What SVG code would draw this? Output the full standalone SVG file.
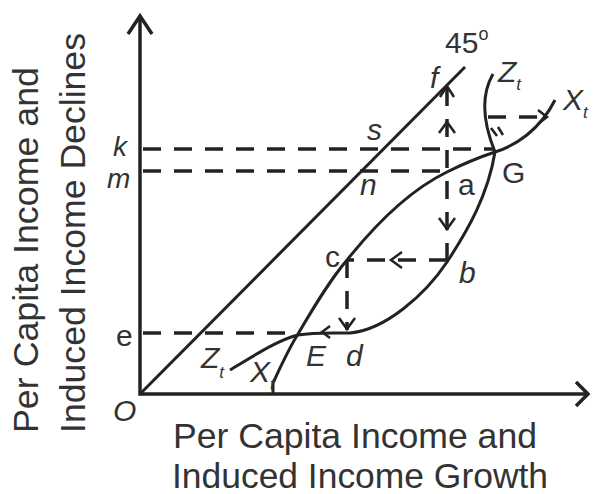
<svg xmlns="http://www.w3.org/2000/svg" width="596" height="494" viewBox="0 0 596 494">
<style>
.ax{fill:none;stroke:#222;stroke-width:3.5}
.cv{fill:none;stroke:#222;stroke-width:3}
.ds{fill:none;stroke:#222;stroke-width:3.5;stroke-dasharray:18 13}
.ah{fill:none;stroke:#222;stroke-width:2.5;stroke-linejoin:miter}
.lb{font-family:"Liberation Sans",Arial,sans-serif;font-size:30px;fill:#333}
.sm{font-size:28px}
.it{font-style:italic}
.sub{font-size:17px}
.big{font-family:"Liberation Sans",Arial,sans-serif;font-size:35px;fill:#333}
</style>
<rect width="596" height="494" fill="#fff"/>
<g id="axes">
<path class="ax" d="M140,16 V394 H588"/>
<polyline class="ax" points="128,34 140,16 152,34"/>
<polyline class="ax" points="576,382 588,394 576,406"/>
</g>
<g id="connectors">
<path class="cv" d="M140,394 L465,67"/>
<path class="ds" d="M143,149 H493"/>
<path class="ds" d="M143,171 H447"/>
<path class="ds" d="M143,333 H298"/>
<path class="ds" d="M447,88 V260"/>
<path class="ds" d="M447,260 H347"/>
<path class="ds" d="M347,260 V330"/>
<path class="ds" d="M488,117 H545"/>
<polyline class="ah" points="440,97 447,86 454,97"/>
<polyline class="ah" points="439,133 447,122 455,133"/>
<polyline class="ah" points="439,218 447,229 455,218"/>
<polyline class="ah" points="402,252 391,260 402,268"/>
<polyline class="ah" points="339,318 347,329 355,318"/>
<polyline class="ah" points="330,326 322,332 330,338"/>
<polyline class="ah" points="538,110 547,117 538,124"/>
<path class="ah" d="M491,128 L497,136 M498,127 L503,135"/>
</g>
<g id="curve-Xt">
<path class="cv" d="M273,394 V383 C280,368 288,350 298,334 C315,305 330,280 347,260 C375,225 410,190 447,172 C465,163 480,157 495,152 C515,146 540,130 555,100"/>
</g>
<g id="curve-Zt">
<path class="cv" d="M230,370 C255,355 278,340 298,335 C315,332 335,333 350,333 C385,330 425,295 447,262 C468,230 488,195 495,152 C486,130 478,100 493,74"/>
</g>
<g id="labels">
<text class="lb" x="445" y="53">45<tspan font-size="18" dy="-13">o</tspan></text>
<text class="lb it" x="430" y="88">f</text>
<text class="lb it" x="498" y="82">Z<tspan class="sub" dy="8">t</tspan></text>
<text class="lb it" x="563" y="110">X<tspan class="sub" dy="8">t</tspan></text>
<text class="lb it" x="367" y="140">s</text>
<text class="lb sm it" x="113" y="156">k</text>
<text class="lb sm it" x="107" y="188">m</text>
<text class="lb it" x="360" y="195">n</text>
<text class="lb" x="458" y="195">a</text>
<text class="lb" x="502" y="183">G</text>
<text class="lb" x="325" y="267">c</text>
<text class="lb it" x="459" y="283">b</text>
<text class="lb" x="116" y="346">e</text>
<text class="lb it" x="306" y="366">E</text>
<text class="lb it" x="346" y="366">d</text>
<text class="lb it" x="201" y="368">Z<tspan class="sub" dy="10">t</tspan></text>
<text class="lb it" x="250" y="382">X<tspan class="sub" dy="8">t</tspan></text>
<text class="lb it" x="113" y="421">O</text>
</g>
<g id="axis-titles">
<text class="big" x="173" y="448" textLength="364" lengthAdjust="spacingAndGlyphs">Per Capita Income and</text>
<text class="big" x="172" y="488" textLength="376" lengthAdjust="spacingAndGlyphs">Induced Income Growth</text>
<text class="big" transform="rotate(-90)" x="-433" y="38" textLength="366" lengthAdjust="spacingAndGlyphs">Per Capita Income and</text>
<text class="big" transform="rotate(-90)" x="-433" y="85" textLength="400" lengthAdjust="spacingAndGlyphs">Induced Income Declines</text>
</g>
</svg>
